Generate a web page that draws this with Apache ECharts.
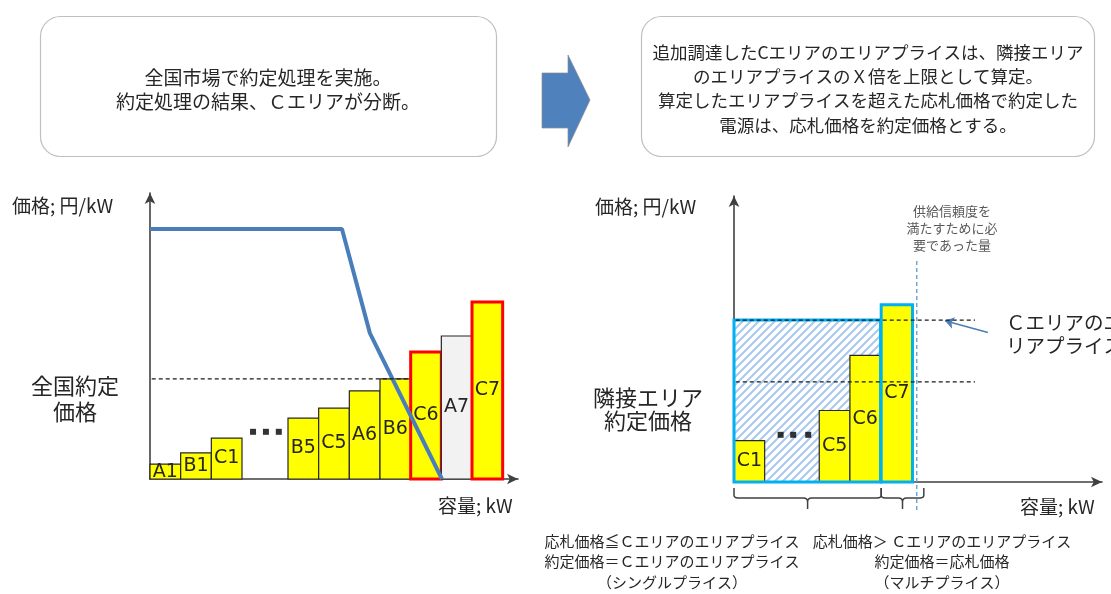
<!DOCTYPE html>
<html><head><meta charset="utf-8">
<script src="https://cdn.jsdelivr.net/npm/echarts@6/dist/echarts.min.js"></script>
<style>html,body{margin:0;padding:0;background:#fff}#c{width:1111px;height:594px}</style>
</head><body><div id="c"></div>
<script>
// ---------- data ----------
const leftNames = ['A1','B1','C1','B5','C5','A6','B6','C6','A7','C7'];
const leftStart = [0,1,2,4.5,5.5,6.5,7.5,8.5,9.5,10.5];
const leftEnd   = [1,2,3,5.5,6.5,7.5,8.5,9.5,10.5,11.5];
const leftPrice = [5.2,9.1,14.3,21.3,24.8,30.8,35,44.4,50,61.9];
const demandX = [0,6.26,7.17,9.52];
const demandY = [87.4,87.4,51,0];
const nationalPrice = 35;
const nationalEnd = 8.5;
const leftDotsX = [3.36,3.78,4.2];
const dotsY = 16.5;

const rightNames = ['C1','C5','C6','C7'];
const rightStart = [0,2.78,3.78,4.8];
const rightEnd   = [1,3.78,4.78,5.82];
const rightPrice = [14.5,25,44.3,62];
const rightDotsX = [1.52,1.93,2.42];
const neighborPrice = 35;
const cAreaPrice = 56.6;
const singlePriceEnd = 4.78;
const requiredCapacity = 5.96;
const braceRanges = [[0,4.8],[4.8,6.19]];

const xMax = 12, yMax = 100;

// ---------- styles ----------
const JP = "'Noto Sans CJK JP', 'Noto Sans', sans-serif";
const TXT = '#262626';
const leftStyle = {
  C6:{fill:'#ffff00',stroke:'#ff0000',lw:3},
  C7:{fill:'#ffff00',stroke:'#ff0000',lw:3},
  A7:{fill:'#f2f2f2',stroke:'#262626',lw:1.2}
};
const rightStyle = { C7:{fill:'#ffff00',stroke:'#00b0f0',lw:3} };
const defStyle = {fill:'#ffff00',stroke:'#262626',lw:1.2};

const pc = document.createElement('canvas'); pc.width = 8; pc.height = 8;
const g = pc.getContext('2d');
g.fillStyle = '#fff'; g.fillRect(0,0,8,8);
g.strokeStyle = '#a9c9ee'; g.lineWidth = 2;
g.beginPath(); g.moveTo(-1,9); g.lineTo(9,-1); g.moveTo(-3,3); g.lineTo(3,-3); g.moveTo(5,11); g.lineTo(11,5); g.stroke();

function bars(names, starts, ends, prices, styles, xi) {
  return {
    type:'custom', xAxisIndex:xi, yAxisIndex:xi, z:3,
    data: names.map((n,i)=>[starts[i], ends[i], prices[i]]),
    renderItem(params, api){
      const i = params.dataIndex, n = names[i];
      const p0 = api.coord([api.value(0), api.value(2)]);
      const p1 = api.coord([api.value(1), 0]);
      const st = styles[n] || defStyle;
      return {type:'group', children:[
        {type:'rect', shape:{x:p0[0], y:p0[1], width:p1[0]-p0[0], height:p1[1]-p0[1]},
         style:{fill:st.fill, stroke:st.stroke, lineWidth:st.lw}},
        {type:'text', x:(p0[0]+p1[0])/2, y:(p0[1]+p1[1])/2,
         style:{text:n, fill:TXT, fontSize:19, fontFamily:'DejaVu Sans', align:'center', verticalAlign:'middle'}}
      ]};
    }
  };
}
function areaRect(x0, x1, y, xi, fill, stroke, z) {
  return {
    type:'custom', xAxisIndex:xi, yAxisIndex:xi, z:z,
    data:[[x0,x1,y]],
    renderItem(params, api){
      const p0 = api.coord([api.value(0), api.value(2)]);
      const p1 = api.coord([api.value(1), 0]);
      return {type:'rect', shape:{x:p0[0], y:p0[1], width:p1[0]-p0[0], height:p1[1]-p0[1]},
        style:{fill:fill, stroke:stroke, lineWidth:stroke==='none'?0:3}};
    }
  };
}
function dashed(pts, xi, color, dash, w) {
  return {type:'line', xAxisIndex:xi, yAxisIndex:xi, data:pts, symbol:'none', clip:false, z:6,
    lineStyle:{color:color, width:w||1, type:dash}, silent:true};
}
function axisPair(i){
  const al = {show:true, symbol:['none','arrow'], symbolSize:[8,11], lineStyle:{color:'#404040', width:1.6}};
  return {
    x:{type:'value', gridIndex:i, min:0, max:xMax, axisLine:al, axisTick:{show:false}, axisLabel:{show:false}, splitLine:{show:false}},
    y:{type:'value', gridIndex:i, min:0, max:yMax, axisLine:al, axisTick:{show:false}, axisLabel:{show:false}, splitLine:{show:false}}
  };
}
const a0 = axisPair(0), a1 = axisPair(1);

function txt(id, x, y, text, size, opt){
  opt = opt || {};
  return {type:'text', id:id, x:x, y:y, z:20, style:Object.assign({text:text, fontSize:size, fontFamily:JP, fill:TXT,
    align:'center', verticalAlign:'middle', lineHeight:opt.lh||size*1.3}, opt.style||{})};
}

const chart = echarts.init(document.getElementById('c'));
chart.setOption({
  animation:false,
  backgroundColor:'#fff',
  grid:[{left:150, top:193, width:368, height:286},{left:734, top:196, width:368, height:286}],
  xAxis:[a0.x, a1.x], yAxis:[a0.y, a1.y],
  series:[
    bars(leftNames, leftStart, leftEnd, leftPrice, leftStyle, 0),
    {type:'line', xAxisIndex:0, yAxisIndex:0, data:demandX.map((x,i)=>[x,demandY[i]]), symbol:'none', z:5,
      lineStyle:{color:'#4a7ebb', width:4}, silent:true},
    dashed([[-0.4,nationalPrice],[nationalEnd,nationalPrice]], 0, '#1a1a1a', [4,3], 1.3),
    {type:'scatter', xAxisIndex:0, yAxisIndex:0, data:leftDotsX.map(x=>[x,dotsY]), symbol:'rect', symbolSize:6, itemStyle:{color:'#000'}, z:5, silent:true},

    areaRect(0, singlePriceEnd, cAreaPrice, 1, {image:pc, repeat:'repeat'}, 'none', 2),
    bars(rightNames.slice(0,3), rightStart.slice(0,3), rightEnd.slice(0,3), rightPrice.slice(0,3), rightStyle, 1),
    areaRect(0, singlePriceEnd, cAreaPrice, 1, 'none', '#00b0f0', 4),
    Object.assign(bars(rightNames.slice(3), rightStart.slice(3), rightEnd.slice(3), rightPrice.slice(3), rightStyle, 1), {z:4}),
    {type:'scatter', xAxisIndex:1, yAxisIndex:1, data:rightDotsX.map(x=>[x,dotsY]), symbol:'rect', symbolSize:6, itemStyle:{color:'#000'}, z:5, silent:true},
    dashed([[-0.4,cAreaPrice],[7.86,cAreaPrice]], 1, '#1a1a1a', [4,3], 1.3),
    dashed([[-0.4,neighborPrice],[7.86,neighborPrice]], 1, '#1a1a1a', [4,3], 1.3),
    Object.assign(dashed([[requiredCapacity,77.3],[requiredCapacity,-10]], 1, '#5b9bd5', [4,3], 1.3), {
      markLine:{silent:true, symbol:['none','arrow'], symbolSize:9, label:{show:false},
        lineStyle:{color:'#4a7ebb', width:1.6, type:'solid'},
        data:[[{coord:[8.28,52.3]},{coord:[6.88,56.4]}]]}
    }),
    {type:'custom', xAxisIndex:1, yAxisIndex:1, z:5, data:braceRanges,
      renderItem(params, api){
        const p0 = api.coord([api.value(0),0]), p1 = api.coord([api.value(1),0]);
        const x0=p0[0], x1=p1[0], xc=(x0+x1)/2, b=p0[1];
        const d = `M${x0} ${b+6} L${x0} ${b+13} Q${x0} ${b+16} ${x0+4} ${b+16} L${xc-4} ${b+16} Q${xc} ${b+16} ${xc} ${b+20} L${xc} ${b+27} M${xc} ${b+20} Q${xc} ${b+16} ${xc+4} ${b+16} L${x1-4} ${b+16} Q${x1} ${b+16} ${x1} ${b+13} L${x1} ${b+6}`;
        return {type:'path', shape:{pathData:d}, style:{fill:'none', stroke:'#404040', lineWidth:1.5}};
      }}
  ],
  graphic:[
    {type:'rect', id:'box1', z:1, shape:{x:40.5, y:16.5, width:456, height:140, r:20}, style:{fill:'#fff', stroke:'#bfbfbf', lineWidth:1.2}},
    {type:'rect', id:'box2', z:1, shape:{x:641.5, y:16.5, width:453, height:140, r:20}, style:{fill:'#fff', stroke:'#bfbfbf', lineWidth:1.2}},
    {type:'polygon', id:'arrow', z:1, shape:{points:[[542,73],[568,73],[568,55],[590,100],[568,147],[568,128],[542,128]]},
      style:{fill:'#4f81bd', stroke:'rgba(140,140,140,0.7)', lineWidth:1}},
    txt('t1', 268, 90, '全国市場で約定処理を実施。\n約定処理の結果、Ｃエリアが分断。', 19, {lh:24}),
    txt('t2', 868, 88.5, '追加調達したCエリアのエリアプライスは、隣接エリア\nのエリアプライスのＸ倍を上限として算定。\n算定したエリアプライスを超えた応札価格で約定した\n電源は、応札価格を約定価格とする。', 17.5, {lh:24.3}),
    txt('yl1', 12, 206, '価格; 円/kW', 19, {style:{align:'left'}}),
    txt('yl2', 595, 207, '価格; 円/kW', 19, {style:{align:'left'}}),
    txt('xl1', 438, 506, '容量; kW', 19, {style:{align:'left'}}),
    txt('xl2', 1020, 507, '容量; kW', 19, {style:{align:'left'}}),
    txt('np', 75, 399, '全国約定\n価格', 22, {lh:26}),
    txt('nb', 648, 409.5, '隣接エリア\n約定価格', 22, {lh:23}),
    txt('ca', 1006, 334, 'Ｃエリアのエ\nリアプライス', 19.5, {lh:23, style:{align:'left'}}),
    txt('req', 952, 228, '供給信頼度を\n満たすために必\n要であった量', 13, {lh:17, style:{fill:'#595959'}}),
    txt('b1', 672, 561.5, '応札価格≦Ｃエリアのエリアプライス\n約定価格＝Ｃエリアのエリアプライス\n（シングルプライス）', 15, {lh:20.5}),
    txt('b2', 942, 561.5, '応札価格＞ Ｃエリアのエリアプライス\n約定価格＝応札価格\n（マルチプライス）', 15, {lh:20.5})
  ]
});
</script></body></html>
